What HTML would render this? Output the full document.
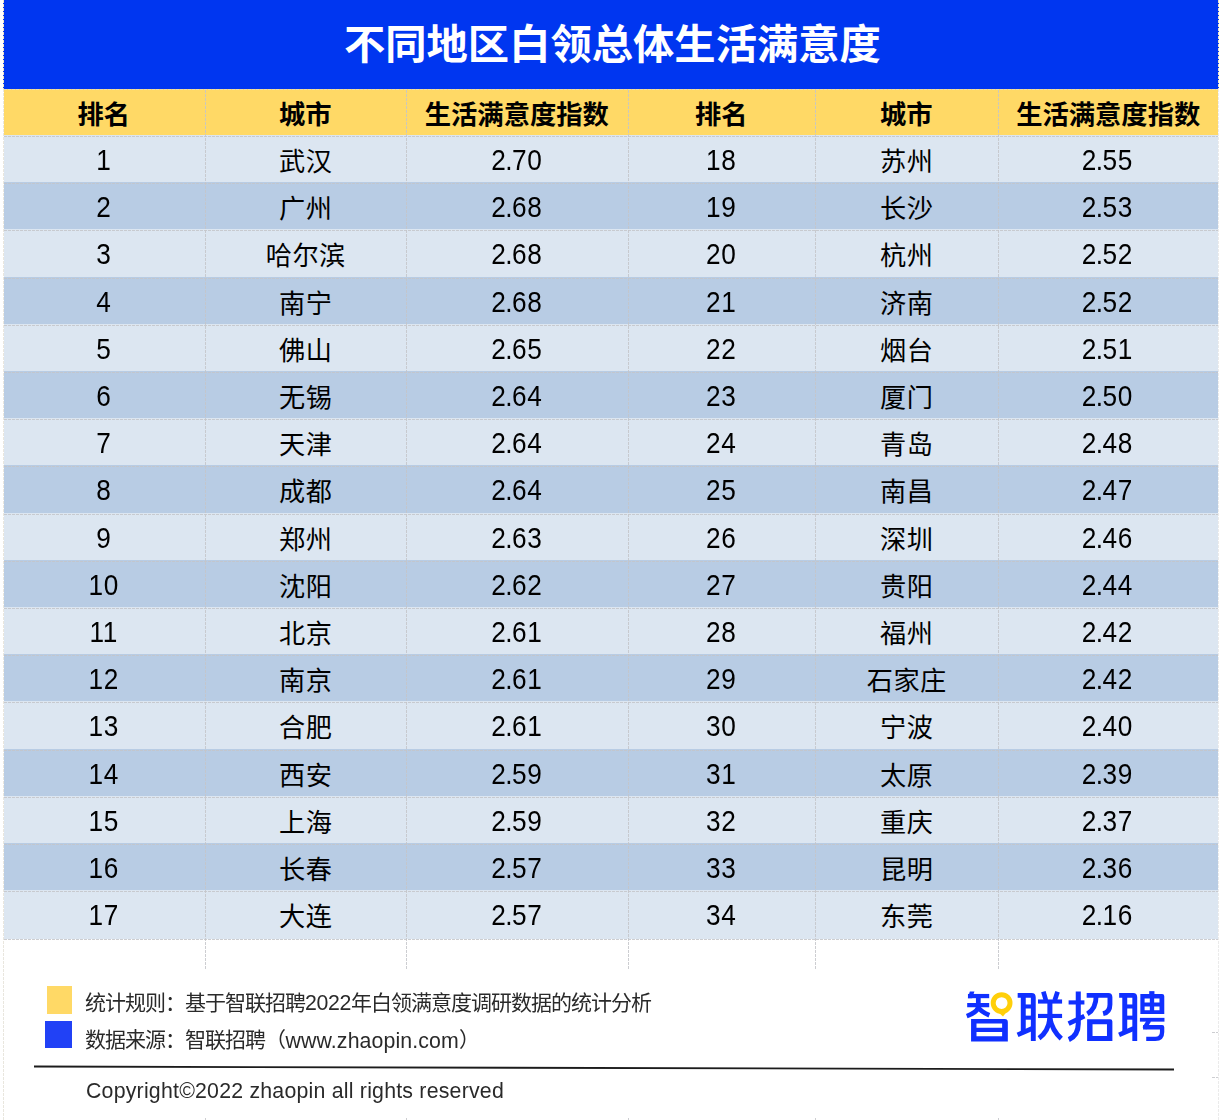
<!DOCTYPE html>
<html lang="zh-CN"><head><meta charset="utf-8"><title>不同地区白领总体生活满意度</title>
<style>
html,body{margin:0;padding:0;background:#fff}
body{width:1219px;height:1120px;position:relative;overflow:hidden;font-family:"Liberation Sans","Noto Sans CJK SC",sans-serif;color:#000}
.sr{position:absolute;width:1px;height:1px;overflow:hidden;clip-path:inset(50%);white-space:nowrap;color:transparent;font-size:1px}
#sheet{position:absolute;left:0;top:0;width:1219px;height:1120px}
#title{position:absolute;left:3px;top:0;width:1216px;height:89px;background:#0036f0;color:#fff;display:flex;justify-content:center}
#title h1{margin:0;font-size:41.3px;line-height:41.3px;font-weight:bold;white-space:nowrap;align-self:flex-start;position:relative;top:25.2px;left:1.4px}
.row{position:absolute;left:4px;width:1214px;display:flex}
.row.a{background:#dce6f1}.row.b{background:#b8cce4}
.row.h{background:#ffd966;top:89px;height:46px}
.c{position:relative;flex:none;height:100%;display:flex;justify-content:center;font-size:29.1px;line-height:1;white-space:nowrap}
.c>span.n{position:absolute;left:-1.6px;right:0;text-align:center;top:11.3px;letter-spacing:.78px;transform:scaleX(.9)}
.c i{font-style:normal;letter-spacing:-.65px;margin-left:-1.4px}
.c>span.t{position:relative;align-self:flex-start;top:14.2px;left:-1px;font-size:26.2px;line-height:26.2px;letter-spacing:.4px;margin-right:-.4px}
.h .c>span.t{top:12.8px;left:-1.2px;font-size:26.3px;line-height:26.3px;letter-spacing:0;margin-right:0;font-weight:bold}
.h .c5>span.t{left:-.3px}
.c0{width:202px}.c1{width:201px}.c2{width:222px}.c3{width:187px}.c4{width:183px}.c5{width:219px}
.vl{position:absolute;z-index:2;width:1px;background:repeating-linear-gradient(to bottom,var(--g) 0 3px,transparent 3px 4px)}
.hl{position:absolute;z-index:2;height:1px;background:repeating-linear-gradient(to right,var(--g) 0 3px,transparent 3px 4px)}
#sheet{--g:rgba(196,197,201,.85)}
#foot{position:absolute;z-index:3;left:4px;top:969px;width:1207px;height:149px;background:#fff;color:#2a2a2a}
#foot .sq{position:absolute}
#foot p{position:absolute;margin:0;left:81px;white-space:nowrap;font-size:21.3px;line-height:26px}
#foot p .k{font-size:21px;letter-spacing:-1px;position:relative;top:.9px}
#foot p,#logo{filter:blur(.3px)}
#foot p .w{position:relative;top:2px;letter-spacing:.12px;margin-left:.5px}
#foot p .d{letter-spacing:-.35px;position:relative;top:1px}
#foot p.cp{letter-spacing:.22px}
</style></head><body>
<div id="sheet">
<div id="title"><h1>不同地区白领总体生活满意度</h1></div>
<div class="row h"><div class="c c0"><span class="t">排名</span></div><div class="c c1"><span class="t">城市</span></div><div class="c c2"><span class="t">生活满意度指数</span></div><div class="c c3"><span class="t">排名</span></div><div class="c c4"><span class="t">城市</span></div><div class="c c5"><span class="t">生活满意度指数</span></div></div>
<div class="row a" style="top:135px;height:47px"><div class="c c0"><span class="n">1</span></div><div class="c c1"><span class="t">武汉</span></div><div class="c c2"><span class="n">2<i>.</i>70</span></div><div class="c c3"><span class="n">18</span></div><div class="c c4"><span class="t">苏州</span></div><div class="c c5"><span class="n">2<i>.</i>55</span></div></div>
<div class="row b" style="top:182px;height:47px"><div class="c c0"><span class="n">2</span></div><div class="c c1"><span class="t">广州</span></div><div class="c c2"><span class="n">2<i>.</i>68</span></div><div class="c c3"><span class="n">19</span></div><div class="c c4"><span class="t">长沙</span></div><div class="c c5"><span class="n">2<i>.</i>53</span></div></div>
<div class="row a" style="top:229px;height:48px"><div class="c c0"><span class="n">3</span></div><div class="c c1"><span class="t">哈尔滨</span></div><div class="c c2"><span class="n">2<i>.</i>68</span></div><div class="c c3"><span class="n">20</span></div><div class="c c4"><span class="t">杭州</span></div><div class="c c5"><span class="n">2<i>.</i>52</span></div></div>
<div class="row b" style="top:277px;height:47px"><div class="c c0"><span class="n">4</span></div><div class="c c1"><span class="t">南宁</span></div><div class="c c2"><span class="n">2<i>.</i>68</span></div><div class="c c3"><span class="n">21</span></div><div class="c c4"><span class="t">济南</span></div><div class="c c5"><span class="n">2<i>.</i>52</span></div></div>
<div class="row a" style="top:324px;height:47px"><div class="c c0"><span class="n">5</span></div><div class="c c1"><span class="t">佛山</span></div><div class="c c2"><span class="n">2<i>.</i>65</span></div><div class="c c3"><span class="n">22</span></div><div class="c c4"><span class="t">烟台</span></div><div class="c c5"><span class="n">2<i>.</i>51</span></div></div>
<div class="row b" style="top:371px;height:47px"><div class="c c0"><span class="n">6</span></div><div class="c c1"><span class="t">无锡</span></div><div class="c c2"><span class="n">2<i>.</i>64</span></div><div class="c c3"><span class="n">23</span></div><div class="c c4"><span class="t">厦门</span></div><div class="c c5"><span class="n">2<i>.</i>50</span></div></div>
<div class="row a" style="top:418px;height:47px"><div class="c c0"><span class="n">7</span></div><div class="c c1"><span class="t">天津</span></div><div class="c c2"><span class="n">2<i>.</i>64</span></div><div class="c c3"><span class="n">24</span></div><div class="c c4"><span class="t">青岛</span></div><div class="c c5"><span class="n">2<i>.</i>48</span></div></div>
<div class="row b" style="top:465px;height:48px"><div class="c c0"><span class="n">8</span></div><div class="c c1"><span class="t">成都</span></div><div class="c c2"><span class="n">2<i>.</i>64</span></div><div class="c c3"><span class="n">25</span></div><div class="c c4"><span class="t">南昌</span></div><div class="c c5"><span class="n">2<i>.</i>47</span></div></div>
<div class="row a" style="top:513px;height:47px"><div class="c c0"><span class="n">9</span></div><div class="c c1"><span class="t">郑州</span></div><div class="c c2"><span class="n">2<i>.</i>63</span></div><div class="c c3"><span class="n">26</span></div><div class="c c4"><span class="t">深圳</span></div><div class="c c5"><span class="n">2<i>.</i>46</span></div></div>
<div class="row b" style="top:560px;height:47px"><div class="c c0"><span class="n">10</span></div><div class="c c1"><span class="t">沈阳</span></div><div class="c c2"><span class="n">2<i>.</i>62</span></div><div class="c c3"><span class="n">27</span></div><div class="c c4"><span class="t">贵阳</span></div><div class="c c5"><span class="n">2<i>.</i>44</span></div></div>
<div class="row a" style="top:607px;height:47px"><div class="c c0"><span class="n">11</span></div><div class="c c1"><span class="t">北京</span></div><div class="c c2"><span class="n">2<i>.</i>61</span></div><div class="c c3"><span class="n">28</span></div><div class="c c4"><span class="t">福州</span></div><div class="c c5"><span class="n">2<i>.</i>42</span></div></div>
<div class="row b" style="top:654px;height:47px"><div class="c c0"><span class="n">12</span></div><div class="c c1"><span class="t">南京</span></div><div class="c c2"><span class="n">2<i>.</i>61</span></div><div class="c c3"><span class="n">29</span></div><div class="c c4"><span class="t">石家庄</span></div><div class="c c5"><span class="n">2<i>.</i>42</span></div></div>
<div class="row a" style="top:701px;height:48px"><div class="c c0"><span class="n">13</span></div><div class="c c1"><span class="t">合肥</span></div><div class="c c2"><span class="n">2<i>.</i>61</span></div><div class="c c3"><span class="n">30</span></div><div class="c c4"><span class="t">宁波</span></div><div class="c c5"><span class="n">2<i>.</i>40</span></div></div>
<div class="row b" style="top:749px;height:47px"><div class="c c0"><span class="n">14</span></div><div class="c c1"><span class="t">西安</span></div><div class="c c2"><span class="n">2<i>.</i>59</span></div><div class="c c3"><span class="n">31</span></div><div class="c c4"><span class="t">太原</span></div><div class="c c5"><span class="n">2<i>.</i>39</span></div></div>
<div class="row a" style="top:796px;height:47px"><div class="c c0"><span class="n">15</span></div><div class="c c1"><span class="t">上海</span></div><div class="c c2"><span class="n">2<i>.</i>59</span></div><div class="c c3"><span class="n">32</span></div><div class="c c4"><span class="t">重庆</span></div><div class="c c5"><span class="n">2<i>.</i>37</span></div></div>
<div class="row b" style="top:843px;height:47px"><div class="c c0"><span class="n">16</span></div><div class="c c1"><span class="t">长春</span></div><div class="c c2"><span class="n">2<i>.</i>57</span></div><div class="c c3"><span class="n">33</span></div><div class="c c4"><span class="t">昆明</span></div><div class="c c5"><span class="n">2<i>.</i>36</span></div></div>
<div class="row a" style="top:890px;height:49px"><div class="c c0"><span class="n">17</span></div><div class="c c1"><span class="t">大连</span></div><div class="c c2"><span class="n">2<i>.</i>57</span></div><div class="c c3"><span class="n">34</span></div><div class="c c4"><span class="t">东莞</span></div><div class="c c5"><span class="n">2<i>.</i>16</span></div></div>
<div class="vl" style="left:205px;top:90px;height:1030px"></div><div class="vl" style="left:406px;top:90px;height:1030px"></div><div class="vl" style="left:628px;top:90px;height:1030px"></div><div class="vl" style="left:815px;top:90px;height:1030px"></div><div class="vl" style="left:998px;top:90px;height:1030px"></div><div class="vl" style="left:3px;top:0;height:89px;--g:#efe4c4"></div><div class="vl" style="left:1218px;top:0;height:89px;--g:#efe4c4"></div><div class="vl" style="left:3px;top:89px;height:1031px;--g:rgba(215,210,195,.55)"></div><div class="vl" style="left:1218px;top:89px;height:1031px;--g:rgba(215,215,215,.5)"></div><div class="hl" style="left:4px;top:89px;width:1214px;--g:#eadcae"></div><div class="hl" style="left:4px;top:136px;width:1214px"></div><div class="hl" style="left:4px;top:183px;width:1214px"></div><div class="hl" style="left:4px;top:230px;width:1214px"></div><div class="hl" style="left:4px;top:278px;width:1214px"></div><div class="hl" style="left:4px;top:325px;width:1214px"></div><div class="hl" style="left:4px;top:372px;width:1214px"></div><div class="hl" style="left:4px;top:419px;width:1214px"></div><div class="hl" style="left:4px;top:466px;width:1214px"></div><div class="hl" style="left:4px;top:514px;width:1214px"></div><div class="hl" style="left:4px;top:561px;width:1214px"></div><div class="hl" style="left:4px;top:608px;width:1214px"></div><div class="hl" style="left:4px;top:655px;width:1214px"></div><div class="hl" style="left:4px;top:702px;width:1214px"></div><div class="hl" style="left:4px;top:750px;width:1214px"></div><div class="hl" style="left:4px;top:797px;width:1214px"></div><div class="hl" style="left:4px;top:844px;width:1214px"></div><div class="hl" style="left:4px;top:891px;width:1214px"></div><div class="hl" style="left:4px;top:939px;width:1214px"></div><div class="hl" style="left:4px;top:1032px;width:1214px"></div><div class="hl" style="left:4px;top:1077px;width:1214px"></div>
<div id="foot"><div class="sq" style="left:43px;top:17.2px;width:25px;height:27.4px;background:#ffd966"></div><div class="sq" style="left:41px;top:52px;width:27px;height:27px;background:#2141f6"></div><p style="top:19.8px"><span class="k">统计规则：基于智联招聘</span><span class="d">2022</span><span class="k">年白领满意度调研数据的统计分析</span></p><p style="top:56.8px"><span class="k">数据来源：智联招聘（</span><span class="w">www.zhaopin.com</span><span class="k">）</span></p><svg style="position:absolute;left:26px;top:92px;width:1150px;height:12px" viewBox="0 0 1150 12"><line x1="4" y1="5.5" x2="1144" y2="8.5" stroke="#1c1c1c" stroke-width="1.8"/></svg><p class="cp" style="top:109.2px;left:82px">Copyright©2022 zhaopin all rights reserved</p><span class="sr">智联招聘</span><svg id="logo" style="position:absolute;left:956px;top:16px;width:215px;height:65px;color:#1030ff" viewBox="960 985 215 65" fill="none" stroke="currentColor" aria-hidden="true"><path d="M967.96 996.06L989.19 996.06" stroke-width="4.25"/><path d="M967.18 1005.13L989.19 1005.13" stroke-width="4.25"/><path d="M969.87 991.56L974.43 991.56L972.15 998.13L967.8 998.13Z" stroke="none" fill="currentColor"/><path d="M978.31 996.06L978.31 1009.27" stroke-width="4.76"/><path d="M978.31 1007.46Q975.98 1012.89 966.76 1016.1" stroke-width="4.66"/><path d="M978.31 1007.46Q981.16 1011.86 989.34 1015.22" stroke-width="4.66"/><path d="M971.06 1019.11L1004.72 1019.11Q1007.83 1019.11 1007.83 1022.21L1007.83 1041.38L971.06 1041.38ZM976.5 1023.51L1002.13 1023.51L1002.13 1027.65L976.5 1027.65ZM976.5 1032.05L1002.13 1032.05L1002.13 1036.2L976.5 1036.2Z" stroke="none" fill="currentColor" fill-rule="evenodd"/><circle cx="1001.62" cy="1003.05" r="8.39" stroke-width="4.97" stroke="#ffcf0a"/><path d="M997.73 1011.86L1007.57 1010.56L1003.02 1016.41Z" stroke="none" fill="#ffcf0a"/><path d="M1017.67 995.38L1031.66 995.38Q1033.29 995.38 1033.29 997.18L1033.29 1040.96" stroke-width="4.87"/><path d="M1023.27 995.38L1023.27 1032.65" stroke-width="4.96"/><path d="M1023.27 1006.48L1033.29 1006.48" stroke-width="4.06"/><path d="M1023.27 1017.67L1033.29 1017.67" stroke-width="4.06"/><path d="M1017.58 1034.82L1032.11 1028.5" stroke-width="4.69"/><path d="M1043.39 991.68L1045.92 1000.34" stroke-width="4.69"/><path d="M1057.56 991.68L1054.77 1000.34" stroke-width="4.69"/><path d="M1037.98 1001.52L1062.08 1001.52" stroke-width="4.15"/><path d="M1037.98 1015.96L1062.08 1015.96" stroke-width="4.15"/><path d="M1049.89 1001.52L1049.89 1021.1" stroke-width="5.05"/><path d="M1049.89 1018.39Q1048.36 1031.48 1039.06 1038.25" stroke-width="4.87"/><path d="M1049.89 1018.39Q1052.42 1030.58 1061.26 1038.61" stroke-width="4.87"/><path d="M1078.27 991.5L1078.27 1023.81Q1078.27 1035.54 1068.79 1039.6" stroke-width="5.05"/><path d="M1068.61 1002.42L1084.4 1002.42" stroke-width="4.15"/><path d="M1068.61 1023.63L1084.4 1016.14" stroke-width="4.69"/><path d="M1086.66 995.38L1108.32 995.38Q1109.95 995.38 1109.95 997.18L1109.95 1004.4Q1109.95 1012.08 1103.09 1013.7" stroke-width="4.87"/><path d="M1096.14 995.83Q1096.14 1008.92 1087.38 1013.88" stroke-width="4.87"/><path d="M1087.11 1019.3L1110.13 1019.3Q1112.38 1019.3 1112.38 1021.55L1112.38 1040.96L1087.11 1040.96ZM1092.53 1024.26L1106.97 1024.26L1106.97 1035.99L1092.53 1035.99Z" stroke="none" fill="currentColor" fill-rule="evenodd"/><path d="M1119.15 995.38L1133.14 995.38Q1134.77 995.38 1134.77 997.18L1134.77 1040.96" stroke-width="4.87"/><path d="M1124.75 995.38L1124.75 1032.65" stroke-width="4.96"/><path d="M1124.75 1006.48L1134.77 1006.48" stroke-width="4.06"/><path d="M1124.75 1017.67L1134.77 1017.67" stroke-width="4.06"/><path d="M1119.06 1034.82L1133.59 1028.5" stroke-width="4.69"/><path d="M1151.82 991.14L1151.82 995.11" stroke-width="5.23"/><path d="M1140.36 994.03L1162.02 994.03Q1164.28 994.03 1164.28 996.28L1164.28 1014.06L1140.36 1014.06ZM1144.6 998.54L1149.84 998.54L1149.84 1002.6L1144.6 1002.6ZM1154.17 998.54L1159.49 998.54L1159.49 1002.6L1154.17 1002.6ZM1144.6 1006.39L1149.84 1006.39L1149.84 1010.27L1144.6 1010.27ZM1154.17 1006.39L1159.49 1006.39L1159.49 1010.27L1154.17 1010.27Z" stroke="none" fill="currentColor" fill-rule="evenodd"/><path d="M1139.91 1019.75L1164.46 1019.75" stroke-width="3.79"/><path d="M1149.12 1020.38L1144.42 1028.32" stroke-width="4.33"/><path d="M1143.07 1027.24L1162.11 1027.24L1162.11 1031.93Q1162.11 1038.79 1155.25 1038.79L1146.23 1038.79" stroke-width="4.33" stroke-linejoin="round"/></svg></div>
</div>
</body></html>
